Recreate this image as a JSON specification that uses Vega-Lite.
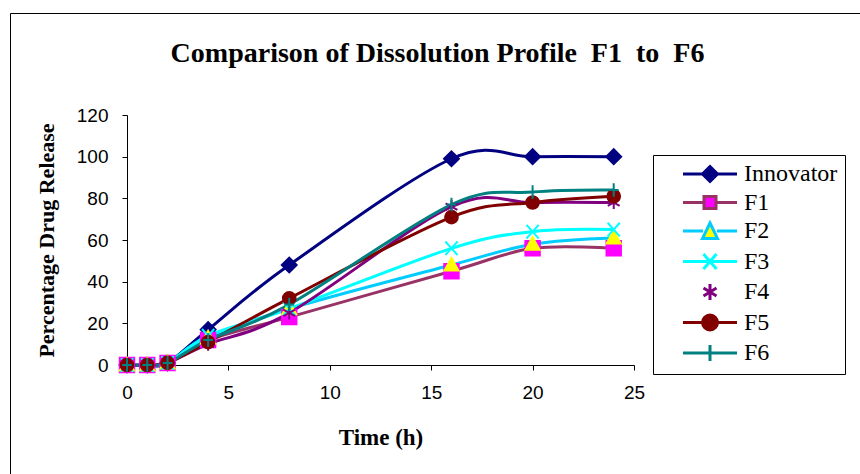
{
  "$schema": "https://vega.github.io/schema/vega-lite/v6.json",
  "width": 507,
  "height": 250,
  "autosize": {"type": "none"},
  "padding": {"left": 127, "top": 115, "right": 226, "bottom": 109},
  "background": "white",
  "title": {
    "text": "Comparison of Dissolution Profile\u00a0\u00a0F1\u00a0\u00a0to\u00a0\u00a0F6",
    "font": "Liberation Serif",
    "fontSize": 28,
    "fontWeight": "bold",
    "color": "black",
    "anchor": "middle",
    "frame": "group",
    "dx": 57,
    "offset": -55
  },
  "config": {
    "view": {"stroke": null},
    "axis": {
      "grid": false,
      "labelFlush": false,
      "domainColor": "black",
      "tickColor": "black",
      "tickSize": 5,
      "labelFont": "Liberation Sans",
      "labelFontSize": 19,
      "labelColor": "black",
      "titleFont": "Liberation Serif",
      "titleFontSize": 22,
      "titleFontWeight": "bold",
      "titleColor": "black"
    }
  },
  "data": {
    "values": [
      {"series": "Innovator", "time": 0, "release": 0},
      {"series": "Innovator", "time": 1, "release": 0},
      {"series": "Innovator", "time": 2, "release": 1},
      {"series": "Innovator", "time": 4, "release": 17},
      {"series": "Innovator", "time": 8, "release": 48},
      {"series": "Innovator", "time": 16, "release": 99},
      {"series": "Innovator", "time": 20, "release": 100},
      {"series": "Innovator", "time": 24, "release": 100},
      {"series": "F1", "time": 0, "release": 0},
      {"series": "F1", "time": 1, "release": 0},
      {"series": "F1", "time": 2, "release": 1},
      {"series": "F1", "time": 4, "release": 12},
      {"series": "F1", "time": 8, "release": 23},
      {"series": "F1", "time": 16, "release": 45},
      {"series": "F1", "time": 20, "release": 56},
      {"series": "F1", "time": 24, "release": 56},
      {"series": "F2", "time": 0, "release": 0},
      {"series": "F2", "time": 1, "release": 0},
      {"series": "F2", "time": 2, "release": 1},
      {"series": "F2", "time": 4, "release": 13},
      {"series": "F2", "time": 8, "release": 27},
      {"series": "F2", "time": 16, "release": 48},
      {"series": "F2", "time": 20, "release": 58},
      {"series": "F2", "time": 24, "release": 61},
      {"series": "F3", "time": 0, "release": 0},
      {"series": "F3", "time": 1, "release": 0},
      {"series": "F3", "time": 2, "release": 1},
      {"series": "F3", "time": 4, "release": 14},
      {"series": "F3", "time": 8, "release": 27},
      {"series": "F3", "time": 16, "release": 56},
      {"series": "F3", "time": 20, "release": 64},
      {"series": "F3", "time": 24, "release": 65},
      {"series": "F4", "time": 0, "release": 0},
      {"series": "F4", "time": 1, "release": 0},
      {"series": "F4", "time": 2, "release": 1},
      {"series": "F4", "time": 4, "release": 10},
      {"series": "F4", "time": 8, "release": 25},
      {"series": "F4", "time": 16, "release": 76},
      {"series": "F4", "time": 20, "release": 78},
      {"series": "F4", "time": 24, "release": 78},
      {"series": "F5", "time": 0, "release": 0},
      {"series": "F5", "time": 1, "release": 0},
      {"series": "F5", "time": 2, "release": 1},
      {"series": "F5", "time": 4, "release": 11},
      {"series": "F5", "time": 8, "release": 32},
      {"series": "F5", "time": 16, "release": 71},
      {"series": "F5", "time": 20, "release": 78},
      {"series": "F5", "time": 24, "release": 81},
      {"series": "F6", "time": 0, "release": 0},
      {"series": "F6", "time": 1, "release": 0},
      {"series": "F6", "time": 2, "release": 1},
      {"series": "F6", "time": 4, "release": 12},
      {"series": "F6", "time": 8, "release": 29},
      {"series": "F6", "time": 16, "release": 77},
      {"series": "F6", "time": 20, "release": 83},
      {"series": "F6", "time": 24, "release": 84}
    ]
  },
  "encoding": {
    "x": {
      "field": "time",
      "type": "quantitative",
      "title": "Time (h)",
      "scale": {"domain": [0, 25], "nice": false, "zero": false},
      "axis": {"values": [0, 5, 10, 15, 20, 25], "labelPadding": 13, "titlePadding": 24, "titleFontSize": 23}
    },
    "y": {
      "field": "release",
      "type": "quantitative",
      "title": "Percentage Drug Release",
      "scale": {"domain": [0, 120], "nice": false},
      "axis": {"values": [0, 20, 40, 60, 80, 100, 120], "labelPadding": 14, "titlePadding": 18}
    }
  },
  "layer": [
    {
      "mark": {"type": "line", "interpolate": "cardinal", "strokeWidth": 3, "clip": false},
      "encoding": {
        "stroke": {
          "field": "series",
          "type": "nominal",
          "legend": null,
          "scale": {
            "domain": ["Innovator", "F1", "F2", "F3", "F4", "F5", "F6"],
            "range": ["#000080", "#993366", "#00CCFF", "#00FFFF", "#800080", "#800000", "#008080"]
          }
        },
        "detail": {"field": "series"}
      }
    },
    {
      "mark": {"type": "point", "strokeWidth": 2, "opacity": 1, "clip": false},
      "encoding": {
        "shape": {
          "field": "series",
          "type": "nominal",
          "legend": null,
          "scale": {
            "domain": ["Innovator", "F1", "F2", "F3", "F4", "F5", "F6"],
            "range": [
              "diamond",
              "square",
              "M0,-1L1,0.8H-1Z",
              "M-0.9,-1L0.9,1M-0.9,1L0.9,-1",
              "M0,-1V1M-0.9,-0.5L0.9,0.5M-0.9,0.5L0.9,-0.5",
              "circle",
              "M-0.8,0H0.8M0,-1.1V1.1"
            ]
          }
        },
        "size": {
          "field": "series",
          "type": "nominal",
          "legend": null,
          "scale": {
            "domain": ["Innovator", "F1", "F2", "F3", "F4", "F5", "F6"],
            "range": [220, 150, 200, 200, 200, 300, 220]
          }
        },
        "fill": {
          "field": "series",
          "type": "nominal",
          "legend": null,
          "scale": {
            "domain": ["Innovator", "F1", "F2", "F3", "F4", "F5", "F6"],
            "range": ["#000080", "#FF00FF", "#FFFF00", "transparent", "transparent", "#800000", "transparent"]
          }
        },
        "stroke": {
          "field": "series",
          "type": "nominal",
          "legend": null,
          "scale": {
            "domain": ["Innovator", "F1", "F2", "F3", "F4", "F5", "F6"],
            "range": ["#000080", "#FF00FF", "#FFFF00", "#00FFFF", "#800080", "#800000", "#008080"]
          }
        }
      }
    },
    {
      "mark": {"type": "point", "strokeWidth": 3, "opacity": 0, "clip": false},
      "encoding": {
        "shape": {
          "field": "series",
          "type": "nominal",
          "title": null,
          "scale": {
            "domain": ["Innovator", "F1", "F2", "F3", "F4", "F5", "F6"],
            "range": [
              "M-2.7,0H-0.7M0.7,0H2.7M0,-0.75L0.75,0L0,0.75L-0.75,0Z",
              "M-2.7,0H-0.6M0.6,0H2.7M-0.6,-0.6H0.6V0.6H-0.6Z",
              "M-2.7,0H-0.7M0.7,0H2.7M0,-0.8L0.75,0.75H-0.75Z",
              "M-2.7,0H2.7M-0.65,-0.75L0.65,0.75M-0.65,0.75L0.65,-0.75",
              "M0,-0.8V0.8M-0.65,-0.4L0.65,0.4M-0.65,0.4L0.65,-0.4",
              "M-2.7,0H-0.75M0.75,0H2.7M0.75,0A0.75,0.75,0,1,1,-0.75,0A0.75,0.75,0,1,1,0.75,0Z",
              "M-2.7,0H2.7M0,-0.8V0.8"
            ]
          },
          "legend": {
            "orient": "none",
            "legendX": 526,
            "legendY": 40,
            "strokeColor": "black",
            "padding": 7,
            "symbolSize": 400,
            "symbolOffset": 38,
            "symbolOpacity": 1,
            "symbolStrokeWidth": 3,
            "labelOffset": 22,
            "labelFont": "Liberation Serif",
            "labelFontSize": 24,
            "labelColor": "black",
            "rowPadding": 2.5,
            "labelExpr": "datum.label + '\u00a0\u00a0\u00a0\u00a0\u00a0\u00a0\u00a0\u00a0'"
          }
        },
        "fill": {
          "field": "series",
          "type": "nominal",
          "title": null,
          "scale": {
            "domain": ["Innovator", "F1", "F2", "F3", "F4", "F5", "F6"],
            "range": ["#000080", "#FF00FF", "#FFFF00", "transparent", "transparent", "#800000", "transparent"]
          }
        },
        "stroke": {
          "field": "series",
          "type": "nominal",
          "title": null,
          "scale": {
            "domain": ["Innovator", "F1", "F2", "F3", "F4", "F5", "F6"],
            "range": ["#000080", "#993366", "#00CCFF", "#00FFFF", "#800080", "#800000", "#008080"]
          }
        },
        "size": {
          "field": "time",
          "type": "quantitative",
          "legend": {
            "orient": "none",
            "legendX": -117,
            "legendY": -102,
            "padding": 600,
            "strokeColor": "black",
            "title": null,
            "values": [0],
            "labelExpr": "''",
            "symbolOpacity": 0,
            "encode": {"legend": {"update": {"strokeWidth": {"value": 2}}}}
          }
        }
      }
    }
  ],
  "resolve": {
    "scale": {"shape": "independent", "fill": "independent", "stroke": "independent", "size": "independent"},
    "legend": {"shape": "independent", "fill": "independent", "stroke": "independent", "size": "independent"}
  }
}
